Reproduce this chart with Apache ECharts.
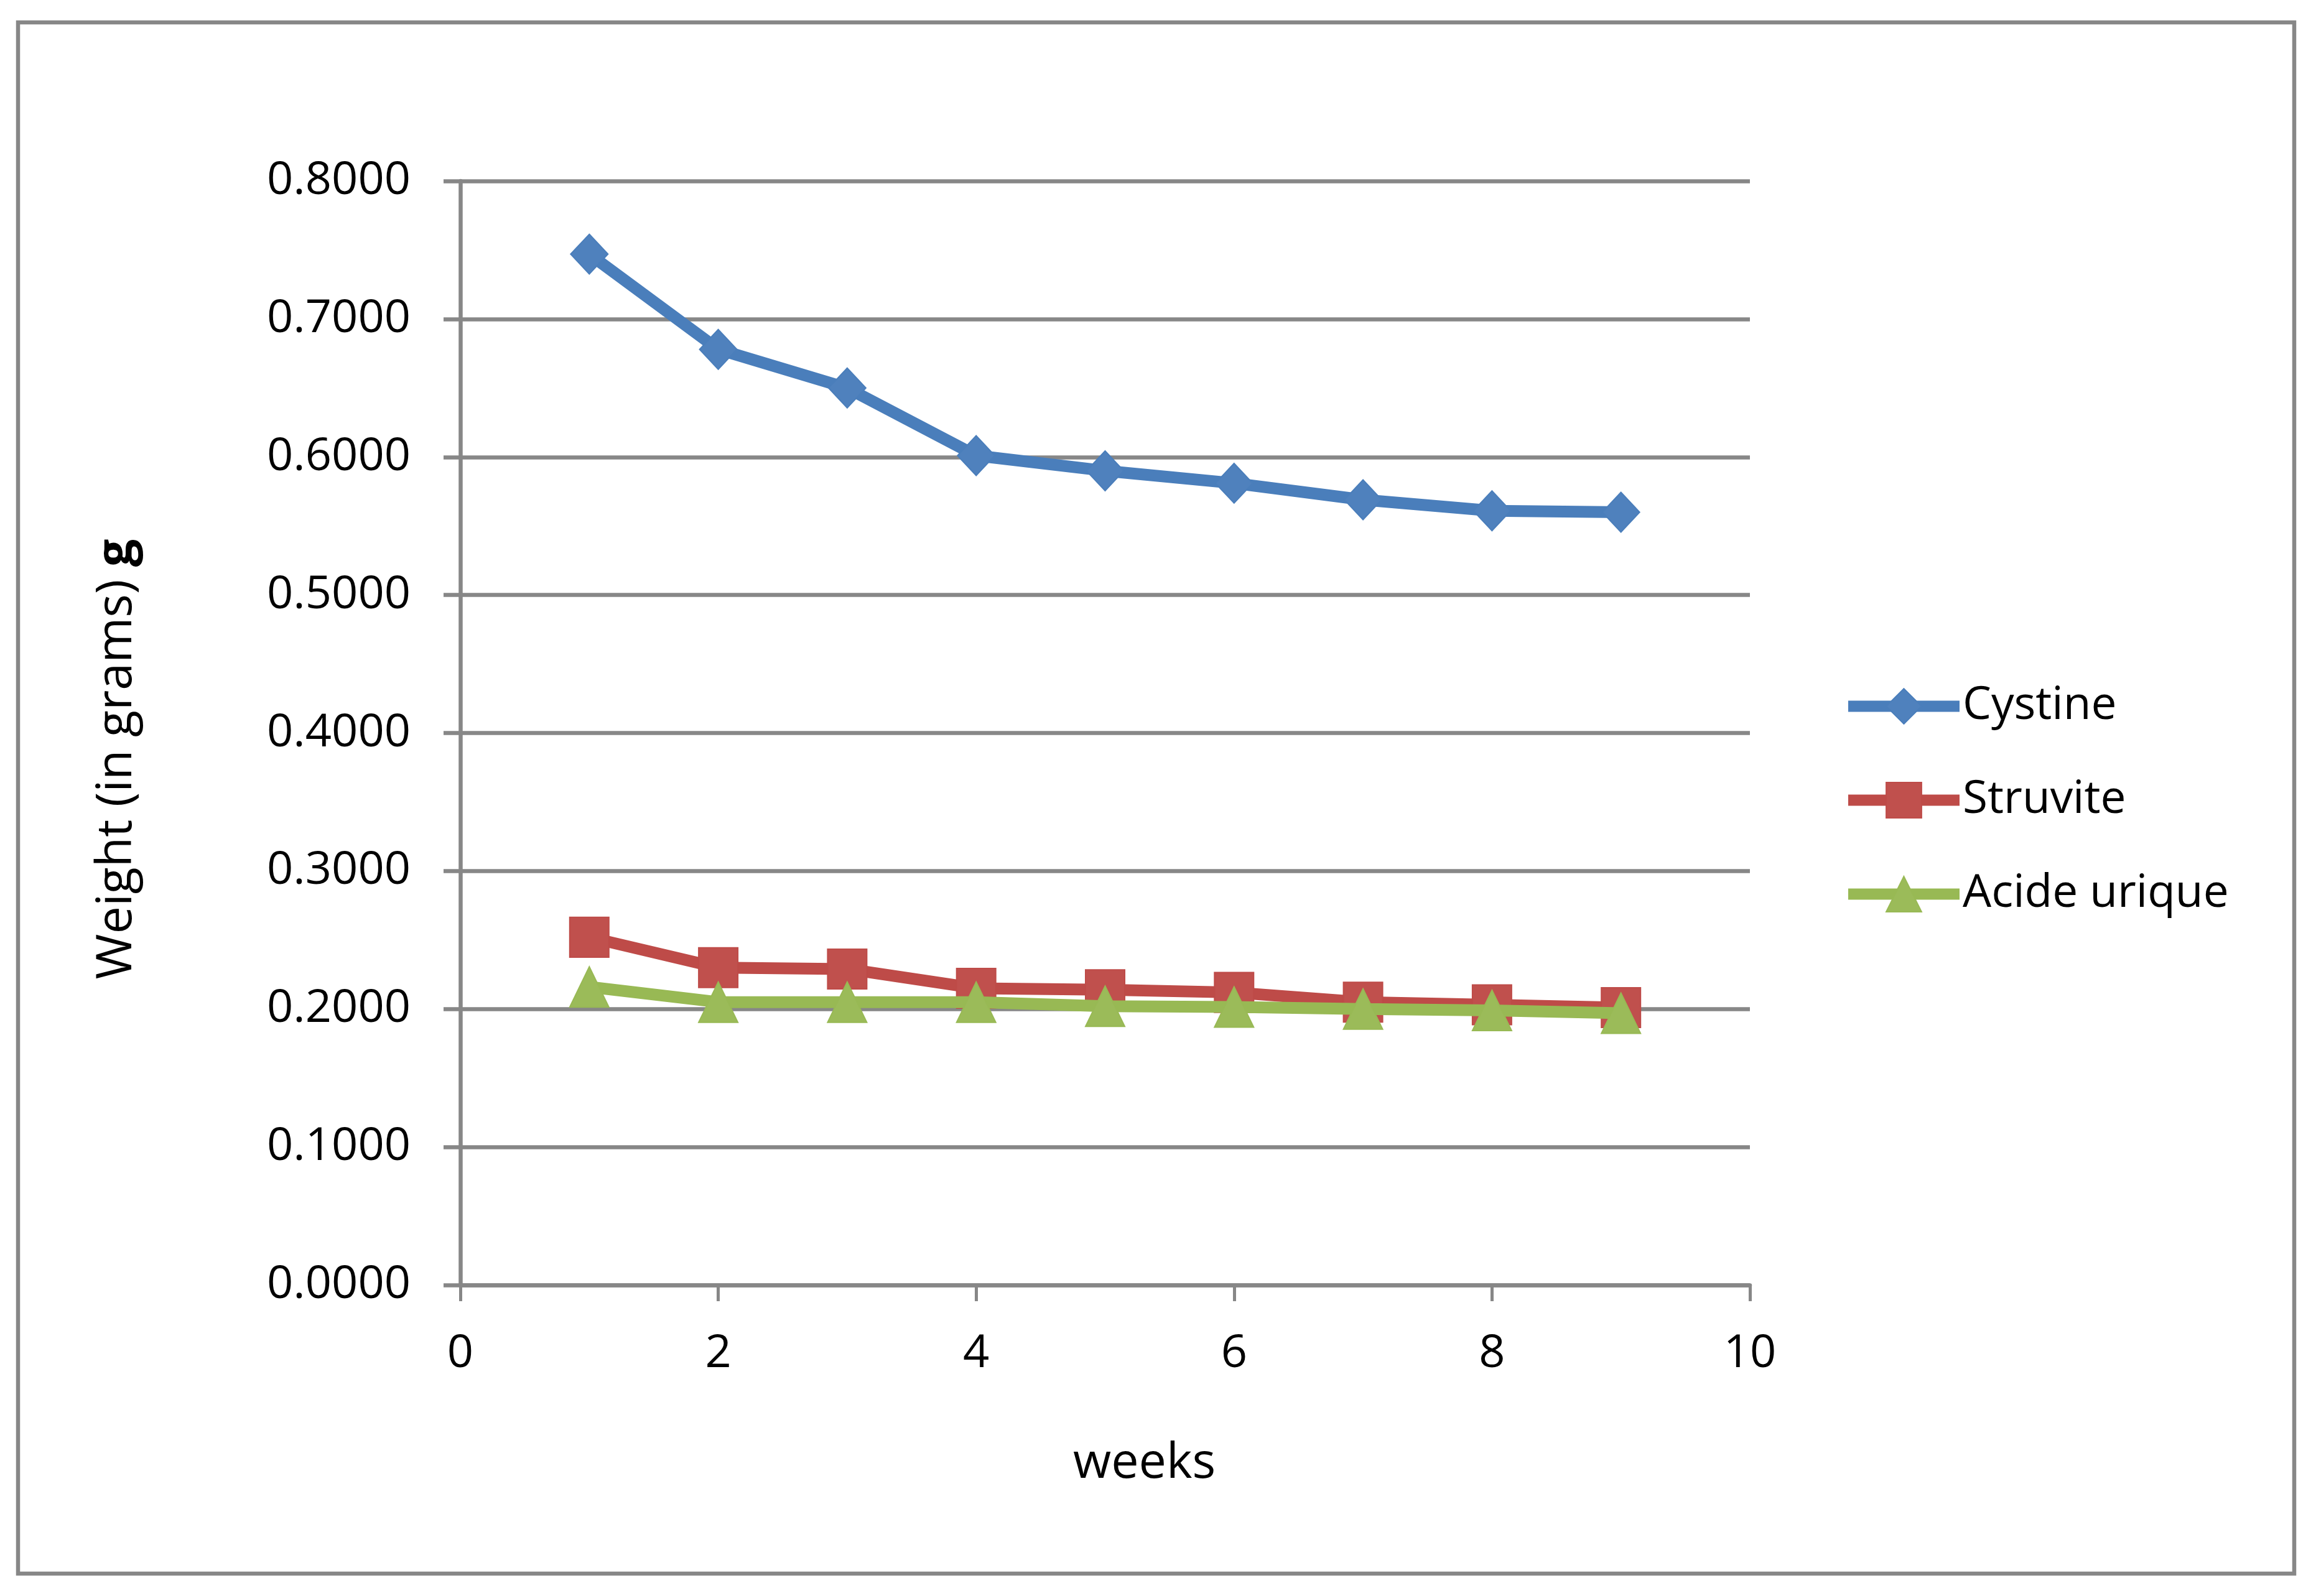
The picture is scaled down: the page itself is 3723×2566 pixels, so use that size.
<!DOCTYPE html>
<html>
<head>
<meta charset="utf-8">
<script src="https://cdn.jsdelivr.net/npm/echarts@6/dist/echarts.min.js"></script>
<style>
html,body{margin:0;padding:0;background:#fff;}
#chart{width:3723px;height:2566px;}
</style>
</head>
<body>
<div id="chart"></div>
<script>
const weeks = [1, 2, 3, 4, 5, 6, 7, 8, 9];
const cystine = [0.747, 0.678, 0.650, 0.601, 0.590, 0.581, 0.569, 0.561, 0.560];
const struvite = [0.252, 0.230, 0.229, 0.215, 0.214, 0.212, 0.205, 0.203, 0.201];
const acideUrique = [0.216, 0.205, 0.205, 0.205, 0.202, 0.2015, 0.200, 0.199, 0.197];
const seriesNames = ['Cystine', 'Struvite', 'Acide urique'];

const FONT = 'Open Sans';
const GRAY = '#878787';

function pairs(vals) { return weeks.map((w, i) => [w, vals[i]]); }

const chart = echarts.init(document.getElementById('chart'));
chart.setOption({
  backgroundColor: '#fff',
  animation: false,
  textStyle: { fontFamily: FONT, color: '#000' },
  graphic: [{
    type: 'rect',
    shape: { x: 29, y: 36, width: 3659, height: 2494 },
    style: { fill: 'none', stroke: GRAY, lineWidth: 6.5 },
    silent: true
  }],
  grid: { left: 740, right: 910, top: 291, bottom: 500, containLabel: false },
  legend: {
    orient: 'vertical',
    left: 2957,
    top: 1094,
    itemWidth: 179,
    itemHeight: 71,
    itemGap: 78,
    data: seriesNames,
    lineStyle: { width: 18 },
    textStyle: { fontFamily: FONT, fontSize: 73, color: '#000', padding: [0, 0, 0, 0] }
  },
  xAxis: {
    type: 'value',
    min: 0, max: 10, interval: 2,
    name: 'weeks',
    nameLocation: 'middle',
    nameGap: 248,
    nameTextStyle: { fontFamily: FONT, fontSize: 79, color: '#000', padding: [0, 0, 0, 126] },
    axisLine: { show: true, lineStyle: { color: GRAY, width: 6.5 } },
    axisTick: { show: true, length: 26, lineStyle: { color: GRAY, width: 5 } },
    axisLabel: { margin: 74, fontFamily: FONT, fontSize: 74, color: '#000' },
    splitLine: { show: false }
  },
  yAxis: {
    type: 'value',
    min: 0, max: 0.8, interval: 0.1,
    name: 'Weight (in grams) {b|g}',
    nameLocation: 'middle',
    nameRotate: 90,
    nameGap: 512,
    nameTextStyle: {
      fontFamily: FONT, fontSize: 79, color: '#000', padding: [0, 84, 0, 0],
      rich: { b: { fontFamily: FONT, fontSize: 79, fontWeight: 'bold', color: '#000' } }
    },
    axisLine: { show: true, lineStyle: { color: GRAY, width: 6.5 } },
    axisTick: { show: true, length: 27, lineStyle: { color: GRAY, width: 6.5 } },
    axisLabel: { margin: 80, fontFamily: FONT, fontSize: 74, color: '#000', formatter: v => v.toFixed(4) },
    splitLine: { show: true, lineStyle: { color: GRAY, width: 6.5 } }
  },
  series: [
    {
      name: seriesNames[0], type: 'line', data: pairs(cystine),
      symbol: 'diamond', symbolSize: [60, 64],
      lineStyle: { color: '#4A7EBB', width: 19 },
      itemStyle: { color: '#4F81BD', borderColor: '#4A7EBB', borderWidth: 2 },
      z: 4
    },
    {
      name: seriesNames[1], type: 'line', data: pairs(struvite),
      symbol: 'rect', symbolSize: [63, 64],
      lineStyle: { color: '#BE4B48', width: 19 },
      itemStyle: { color: '#C0504D', borderColor: '#BE4B48', borderWidth: 2 },
      z: 3
    },
    {
      name: seriesNames[2], type: 'line', data: pairs(acideUrique),
      symbol: 'triangle', symbolSize: [63, 65],
      lineStyle: { color: '#98B954', width: 19 },
      itemStyle: { color: '#9BBB59', borderColor: '#98B954', borderWidth: 2 },
      z: 5
    }
  ]
});
</script>
</body>
</html>
